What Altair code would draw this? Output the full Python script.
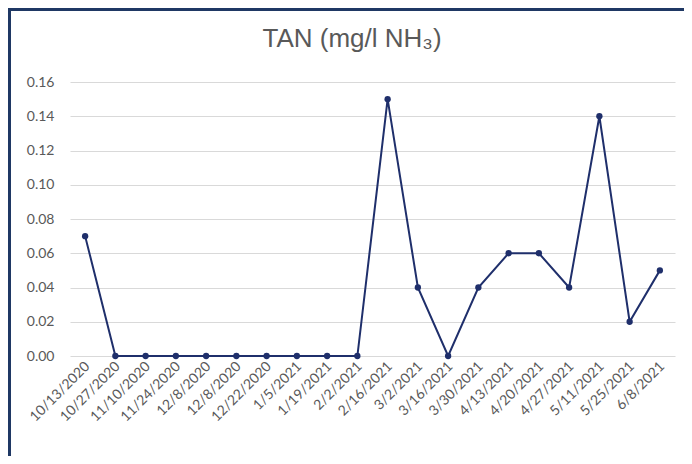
import altair as alt
import pandas as pd

dates = ["10/13/2020", "10/27/2020", "11/10/2020", "11/24/2020", "12/8/2020",
         "12/8/2020", "12/22/2020", "1/5/2021", "1/19/2021", "2/2/2021",
         "2/16/2021", "3/2/2021", "3/16/2021", "3/30/2021", "4/13/2021",
         "4/20/2021", "4/27/2021", "5/11/2021", "5/25/2021", "6/8/2021"]
values = [0.07, 0, 0, 0, 0, 0, 0, 0, 0, 0,
          0.15, 0.04, 0, 0.04, 0.06, 0.06, 0.04, 0.14, 0.02, 0.05]
y_ticks = [0, 0.02, 0.04, 0.06, 0.08, 0.10, 0.12, 0.14, 0.16]
title_text = "TAN (mg/l NH₃)"

df = pd.DataFrame({"idx": list(range(len(dates))), "date": dates, "value": values})

label_js = "[" + ",".join('"%s"' % d for d in dates) + "]"

NAVY = "#1F2F6B"

base = alt.Chart(df).encode(
    x=alt.X("idx:O", title=None,
            axis=alt.Axis(labelExpr=label_js + "[datum.value]", labelAngle=-45,
                          labelAlign="right", labelBaseline="middle",
                          labelFont="Lato", labelFontSize=14, labelColor="#595959",
                          ticks=False, domain=False, labelPadding=8,
                          labelOffset=2)),
    y=alt.Y("value:Q", title=None,
            scale=alt.Scale(domain=[0, 0.16], nice=False),
            axis=alt.Axis(values=y_ticks, format=".2f", labelFont="Lato",
                          labelFontSize=14, labelColor="#595959", ticks=False,
                          domain=False, labelPadding=16, gridColor="#D9D9D9",
                          gridWidth=1)),
)

line = base.mark_line(color=NAVY, strokeWidth=2)
pts = base.mark_circle(color=NAVY, opacity=1, size=40)

title_df = pd.DataFrame({"t": [title_text]})
title = alt.Chart(title_df).mark_text(
    font="Liberation Sans", fontSize=26, color="#595959", align="center",
    baseline="alphabetic").encode(
    text="t:N", x=alt.value(282), y=alt.value(-35))

top_border = alt.Chart(df).mark_rule(color="#1F3864", strokeWidth=3).encode(
    x=alt.value(-61.5), x2=alt.value(620), y=alt.value(-72.5))
left_border = alt.Chart(df).mark_rule(color="#1F3864", strokeWidth=3).encode(
    x=alt.value(-60.5), y=alt.value(-74), y2=alt.value(380))

chart = alt.layer(line, pts, title, top_border, left_border).properties(
    width=605, height=274,
    autosize=alt.AutoSizeParams(type="none"),
    padding={"left": 62, "top": 74, "right": 9, "bottom": 100},
).configure_view(stroke=None)

chart.save("out.html", embed_options={"renderer": "svg", "actions": False})
